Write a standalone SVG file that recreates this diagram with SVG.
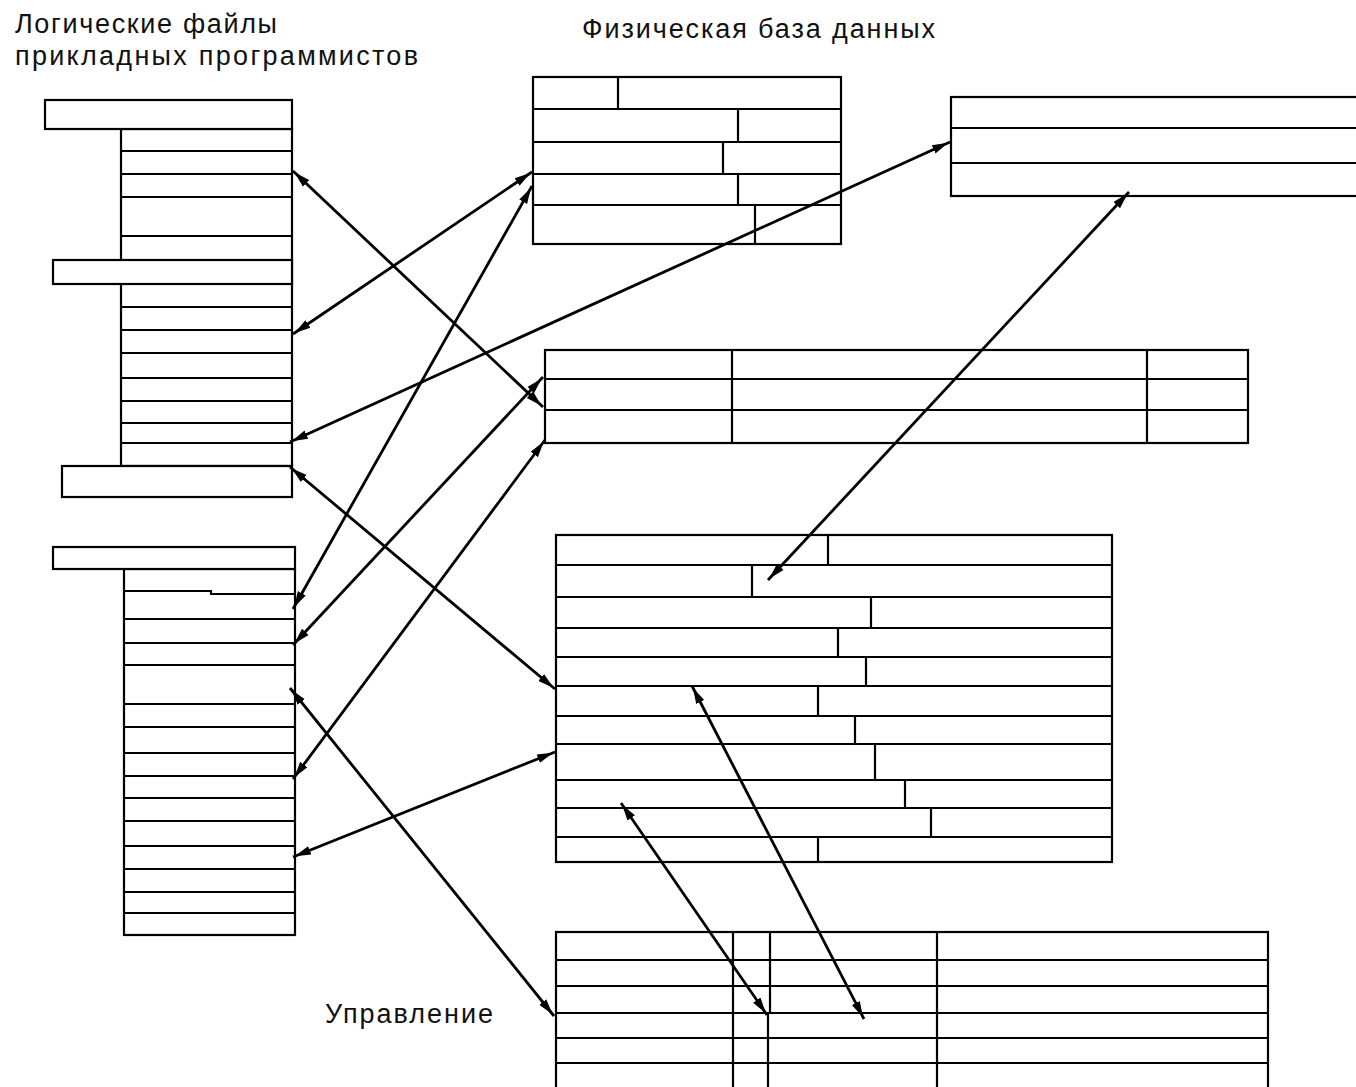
<svg xmlns="http://www.w3.org/2000/svg" width="1356" height="1087" viewBox="0 0 1356 1087">
<style>
.t{fill:#fff;stroke:#000;stroke-width:2.2}
.l{fill:none;stroke:#000;stroke-width:2.2}
.c{fill:none;stroke:#000;stroke-width:2.8;marker-start:url(#ah);marker-end:url(#ah)}
.txt{font-family:"Liberation Sans",Arial,sans-serif;font-size:27px;fill:#111}
</style>
<defs>
<marker id="ah" markerUnits="userSpaceOnUse" markerWidth="26" markerHeight="12" viewBox="0 -6 26 12" refX="18" refY="0" orient="auto-start-reverse">
<path d="M0,-4.5 L16,0 L0,4.5 z" fill="#000"/>
</marker>
</defs>
<rect width="1356" height="1087" fill="#fff"/>

<g id="label-logical">
<text class="txt" x="15" y="33" textLength="262" lengthAdjust="spacing">Логические файлы</text>
<text class="txt" x="15" y="65" textLength="403" lengthAdjust="spacing">прикладных программистов</text>
</g>
<g id="label-physical">
<text class="txt" x="582" y="38" textLength="353" lengthAdjust="spacing">Физическая база данных</text>
</g>
<g id="label-control">
<text class="txt" x="325" y="1023" textLength="168" lengthAdjust="spacing">Управление</text>
</g>

<g id="logical-file-1">
<rect class="t" x="121" y="129" width="171" height="337"/>
<rect class="t" x="45" y="100" width="247" height="29"/>
<rect class="t" x="53" y="260" width="239" height="24"/>
<rect class="t" x="62" y="466" width="230" height="31"/>
<path class="l" d="M121,151H292M121,174H292M121,197H292M121,236H292M121,307H292M121,330H292M121,353H292M121,378H292M121,401H292M121,423H292M121,443H292"/>
</g>

<g id="logical-file-2">
<rect class="t" x="124" y="569" width="171" height="366"/>
<rect class="t" x="53" y="547" width="242" height="22"/>
<path class="l" d="M124,591H211V594H295M124,619H295M124,643H295M124,665H295M124,704H295M124,727H295M124,753H295M124,776H295M124,798H295M124,821H295M124,846H295M124,869H295M124,892H295M124,913H295"/>
</g>

<g id="phys-table-1">
<rect class="t" x="533" y="77" width="308" height="167"/>
<path class="l" d="M533,109H841M533,142H841M533,174H841M533,205H841M618,77V109M738,109V142M723,142V174M738,174V205M755,205V244"/>
</g>

<g id="phys-table-2">
<rect class="t" x="951" y="97" width="420" height="99"/>
<path class="l" d="M951,128H1356M951,163H1356"/>
</g>

<g id="phys-table-3">
<rect class="t" x="545" y="350" width="703" height="93"/>
<path class="l" d="M545,379H1248M545,410H1248M732,350V443M1147,350V443"/>
</g>

<g id="phys-table-4">
<rect class="t" x="556" y="535" width="556" height="327"/>
<path class="l" d="M556,565H1112M556,597H1112M556,628H1112M556,657H1112M556,686H1112M556,716H1112M556,744H1112M556,780H1112M556,808H1112M556,837H1112M828,535V565M752,565V597M871,597V628M838,628V657M866,657V686M818,686V716M855,716V744M875,744V780M905,780V808M931,808V837M818,837V862"/>
</g>

<g id="control-table">
<rect class="t" x="556" y="932" width="712" height="170"/>
<path class="l" d="M556,960H1268M556,986H1268M556,1013H1268M556,1038H1268M556,1063H1268M733,932V1090M770,932V1013M768,1013V1090M937,932V1090"/>
</g>

<g id="connectors">
<line class="c" x1="293" y1="171" x2="543" y2="407"/>
<line class="c" x1="293" y1="334" x2="532" y2="172"/>
<line class="c" x1="290" y1="442" x2="950" y2="142"/>
<line class="c" x1="290" y1="467" x2="555" y2="689"/>
<line class="c" x1="293" y1="609" x2="532" y2="186"/>
<line class="c" x1="293" y1="645" x2="543" y2="377"/>
<line class="c" x1="293" y1="779" x2="545" y2="440"/>
<line class="c" x1="293" y1="857" x2="555" y2="752"/>
<line class="c" x1="290" y1="688" x2="554" y2="1016"/>
<line class="c" x1="1129" y1="192" x2="768" y2="580"/>
<line class="c" x1="692" y1="686" x2="864" y2="1019"/>
<line class="c" x1="621" y1="803" x2="767" y2="1015"/>
</g>
</svg>
